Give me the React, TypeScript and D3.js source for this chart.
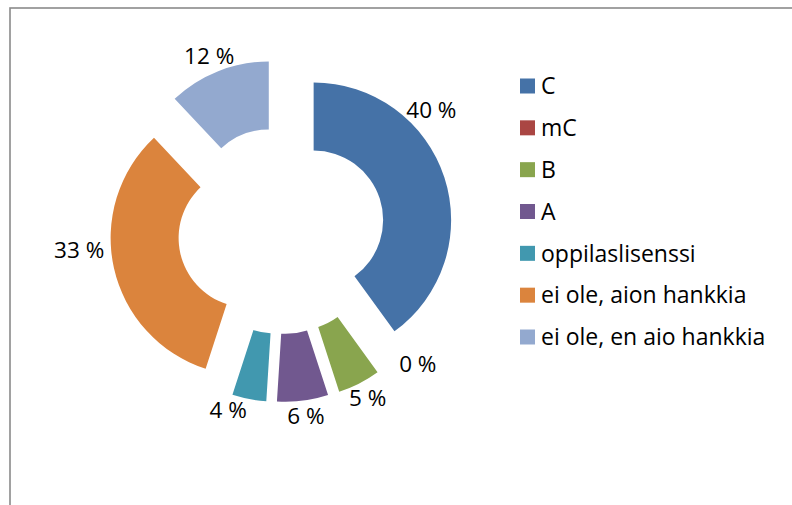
import React, { useEffect, useRef } from 'react';
import * as d3 from 'd3';

const categories = [
  'C',
  'mC',
  'B',
  'A',
  'oppilaslisenssi',
  'ei ole, aion hankkia',
  'ei ole, en aio hankkia',
];
const values = [40, 0, 5, 6, 4, 33, 12];
const colors = ['#4572A7', '#AA4643', '#89A54E', '#71588F', '#4198AF', '#DB843D', '#93A9CF'];

// label angle tweaks (degrees) where Excel moved the label off the slice middle
const labelNudge = [-28, -10, 1, 0, 6, 8, 1];

const W = 792;
const H = 505;

const App = () => {
  const svgRef = useRef<SVGSVGElement | null>(null);

  useEffect(() => {
    const svg = d3.select(svgRef.current);
    svg.selectAll('*').remove();

    const font = '"Open Sans", "Noto Sans", sans-serif';
    const cx = 281.3;
    const cy = 230.6;
    const outerR = 137.5;
    const innerR = 69.5;
    const explode = 34;

    // chart frame (right and bottom edges run off the picture)
    svg
      .append('rect')
      .attr('x', 10)
      .attr('y', 8)
      .attr('width', 820)
      .attr('height', 540)
      .attr('fill', '#fff')
      .attr('stroke', '#8a8a8a')
      .attr('stroke-width', 1.6);

    const data = categories.map((name, i) => ({ name, value: values[i], color: colors[i], i }));

    const pie = d3
      .pie<any>()
      .sort(null)
      .value(d => d.value);
    const arcs = pie(data);

    const arc = d3.arc<any>().innerRadius(innerR).outerRadius(outerR);

    const g = svg.append('g').attr('transform', `translate(${cx},${cy})`);

    const slices = g
      .selectAll('g.slice')
      .data(arcs)
      .join('g')
      .attr('class', 'slice')
      .attr('transform', d => {
        const mid = (d.startAngle + d.endAngle) / 2;
        return `translate(${Math.sin(mid) * explode},${-Math.cos(mid) * explode})`;
      });

    slices
      .append('path')
      .attr('d', d => (d.endAngle > d.startAngle ? arc(d) : null))
      .attr('fill', d => d.data.color);

    // data labels outside each slice
    slices
      .append('text')
      .each(function (d) {
        const mid = (d.startAngle + d.endAngle) / 2 + (labelNudge[d.data.i] * Math.PI) / 180;
        const sx = Math.sin(mid);
        const sy = -Math.cos(mid);
        const label = `${d.data.value} %`;
        const halfW = label.length * 7.5;
        const halfH = 13;
        const rr = outerR + 2;
        const x = sx * rr + sx * halfW;
        const y = sy * rr + sy * halfH;
        d3.select(this)
          .attr('x', x)
          .attr('y', y)
          .attr('dy', '0.36em')
          .attr('text-anchor', 'middle')
          .text(label);
      })
      .style('font-family', font)
      .style('font-size', '22.5px')
      .style('fill', '#000');

    // legend
    const legendY = d3
      .scalePoint<string>()
      .domain(categories)
      .range([86, 337]);

    const legend = svg
      .append('g')
      .selectAll('g')
      .data(data)
      .join('g')
      .attr('transform', d => `translate(520,${legendY(d.name)})`);

    legend
      .append('rect')
      .attr('x', 0)
      .attr('y', -7.5)
      .attr('width', 15)
      .attr('height', 15)
      .attr('fill', d => d.color);

    legend
      .append('text')
      .attr('x', 21)
      .attr('dy', '0.36em')
      .style('font-family', font)
      .style('font-size', '23px')
      .style('fill', '#000')
      .text(d => d.name);
  }, []);

  return (
    <div style={{ position: 'absolute', left: 0, top: 0, width: W, height: H, overflow: 'hidden' }}>
      <svg ref={svgRef} width={W} height={H}></svg>
    </div>
  );
};

export default App;
